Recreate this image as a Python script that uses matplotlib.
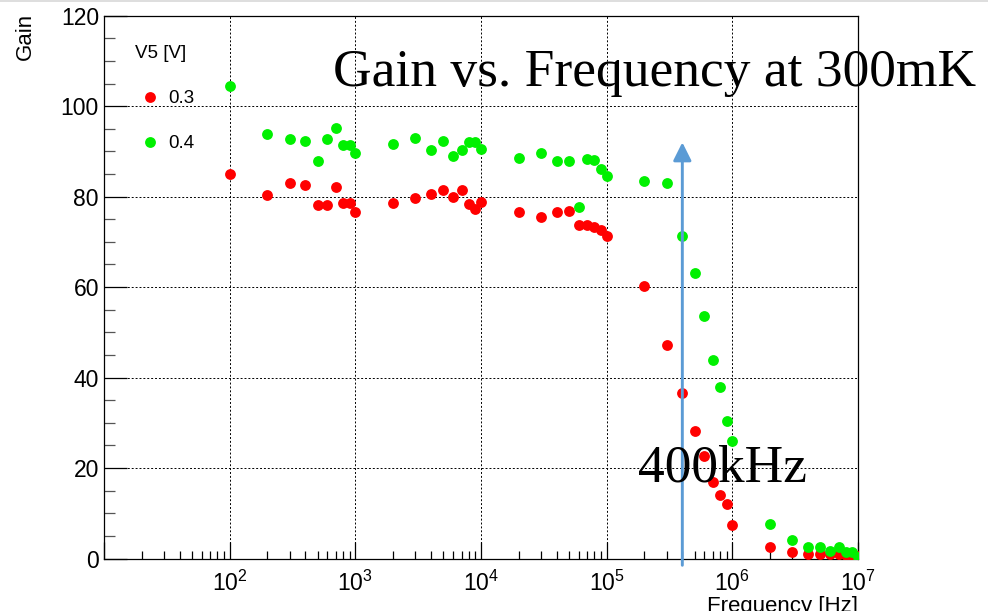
import matplotlib
matplotlib.use('Agg')
import matplotlib.pyplot as plt
from matplotlib.ticker import FixedLocator, FixedFormatter, MultipleLocator, NullFormatter
from matplotlib.lines import Line2D

plt.rcParams['font.family'] = ['Liberation Sans', 'DejaVu Sans']
plt.rcParams['mathtext.fontset'] = 'custom'
plt.rcParams['mathtext.rm'] = 'Liberation Sans'
plt.rcParams['mathtext.it'] = 'Liberation Sans:italic'

# ---- data ----
freq = [100, 200, 300, 400, 500, 600, 700, 800, 900,
        1e3, 2e3, 3e3, 4e3, 5e3, 6e3, 7e3, 8e3, 9e3,
        1e4, 2e4, 3e4, 4e4, 5e4, 6e4, 7e4, 8e4, 9e4,
        1e5, 2e5, 3e5, 4e5, 5e5, 6e5, 7e5, 8e5, 9e5,
        1e6, 2e6, 3e6, 4e6, 5e6, 6e6, 7e6, 8e6, 9e6, 1e7]
gain_03 = [85.1, 80.4, 83.0, 82.5, 78.2, 78.2, 82.1, 78.6, 78.6,
           76.7, 78.7, 79.8, 80.6, 81.4, 80.0, 81.5, 78.4, 77.3,
           78.9, 76.7, 75.6, 76.7, 76.8, 73.7, 73.8, 73.2, 72.7,
           71.3, 60.2, 47.2, 36.5, 28.1, 22.7, 16.9, 14.0, 12.0,
           7.3, 2.6, 1.5, 1.1, 1.1, 1.0, 1.0, 0.8, 0.7, 0.5]
gain_04 = [104.5, 93.8, 92.7, 92.2, 87.9, 92.7, 95.2, 91.5, 91.5,
           89.6, 91.6, 93.0, 90.2, 92.4, 89.0, 90.4, 92.1, 92.1,
           90.5, 88.6, 89.6, 87.8, 87.8, 77.8, 88.4, 88.1, 86.1,
           84.5, 83.5, 83.0, 71.4, 63.2, 53.7, 43.9, 38.0, 30.5,
           26.0, 7.6, 4.1, 2.5, 2.5, 1.7, 2.5, 1.5, 1.5, 0.3]
series_labels = ['0.3', '0.4']
legend_title = 'V5 [V]'
x_major = [1e1, 1e2, 1e3, 1e4, 1e5, 1e6, 1e7]
x_major_labels = ['', r'$\mathregular{10^{2}}$', r'$\mathregular{10^{3}}$', r'$\mathregular{10^{4}}$',
                  r'$\mathregular{10^{5}}$', r'$\mathregular{10^{6}}$', r'$\mathregular{10^{7}}$']
arrow_freq = 4e5
arrow_top = 92
title_text = 'Gain vs. Frequency at 300mK'
arrow_text = '400kHz'

W, H = 988, 611
fig = plt.figure(figsize=(W / 100, H / 100), dpi=100)
ax = fig.add_axes([104 / W, 1 - 558.5 / H, (858 - 104) / W, (558.5 - 15.7) / H])

ax.set_xscale('log')
ax.set_xlim(1e1, 1e7)
ax.set_ylim(0, 120)

red = '#ff0000'
green = '#00f000'
ax.plot(freq, gain_03, 'o', color=red, ms=7.8, mec='none', label=series_labels[0], zorder=3)
ax.plot(freq, gain_04, 'o', color=green, ms=7.8, mec='none', label=series_labels[1], zorder=4)

# ticks
ax.xaxis.set_major_locator(FixedLocator(x_major))
ax.xaxis.set_major_formatter(FixedFormatter(x_major_labels))
minors = [m * 10 ** e for e in range(1, 7) for m in range(2, 10)]
ax.xaxis.set_minor_locator(FixedLocator(minors))
ax.xaxis.set_minor_formatter(NullFormatter())
ax.yaxis.set_major_locator(MultipleLocator(20))
ax.yaxis.set_minor_locator(MultipleLocator(5))

ax.tick_params(axis='both', which='both', direction='in', top=False, right=False,
               labelsize=16.5, colors='black', width=0.9)
ax.tick_params(axis='y', which='major', length=16.5, pad=3.6)
ax.tick_params(axis='y', which='minor', length=8, color='#555555')
ax.tick_params(axis='x', which='major', length=12, pad=9)
ax.tick_params(axis='x', which='minor', length=6)

for s in ax.spines.values():
    s.set_linewidth(0.9)
    s.set_color('black')

ax.grid(True, which='major', linestyle=(0, (2, 2)), color='black', lw=0.7)
ax.set_axisbelow(True)

# axis titles
fig.text(25 / W, 1 - 13 / H, 'Gain', rotation=90, ha='center', va='top', fontsize=16)
fig.text(858 / W, 1 - 596 / H, 'Frequency [Hz]', ha='right', va='top', fontsize=16)

# legend
leg = ax.legend(title=legend_title, loc='upper left', bbox_to_anchor=(135 / W, 1 - 45 / H),
                bbox_transform=fig.transFigure, frameon=False, fontsize=13.5,
                title_fontsize=13.5, alignment='left', handlelength=1.6, handletextpad=0.15,
                labelspacing=1.5, borderpad=0, borderaxespad=0, numpoints=1)

# arrow
ax.annotate('', xy=(arrow_freq, arrow_top), xytext=(arrow_freq, -1.5),
            arrowprops=dict(arrowstyle='-|>,head_length=1.1,head_width=0.55',
                            color='#5b9bd5', lw=2.1, shrinkA=0, shrinkB=0),
            annotation_clip=False, zorder=5)

# big serif texts
fig.text(333 / W, 1 - 86 / H, title_text, ha='left', va='baseline', fontsize=38.5,
         family=['Liberation Serif', 'DejaVu Serif'], zorder=10)
fig.text(638 / W, 1 - 481 / H, arrow_text, ha='left', va='baseline', fontsize=38.5,
         family=['Liberation Serif', 'DejaVu Serif'], zorder=10)

fig.add_artist(Line2D([0, 1], [1 - 0.5 / H, 1 - 0.5 / H], color='#d8d8d8', lw=1.2))

fig.savefig('out.png', dpi=100)
